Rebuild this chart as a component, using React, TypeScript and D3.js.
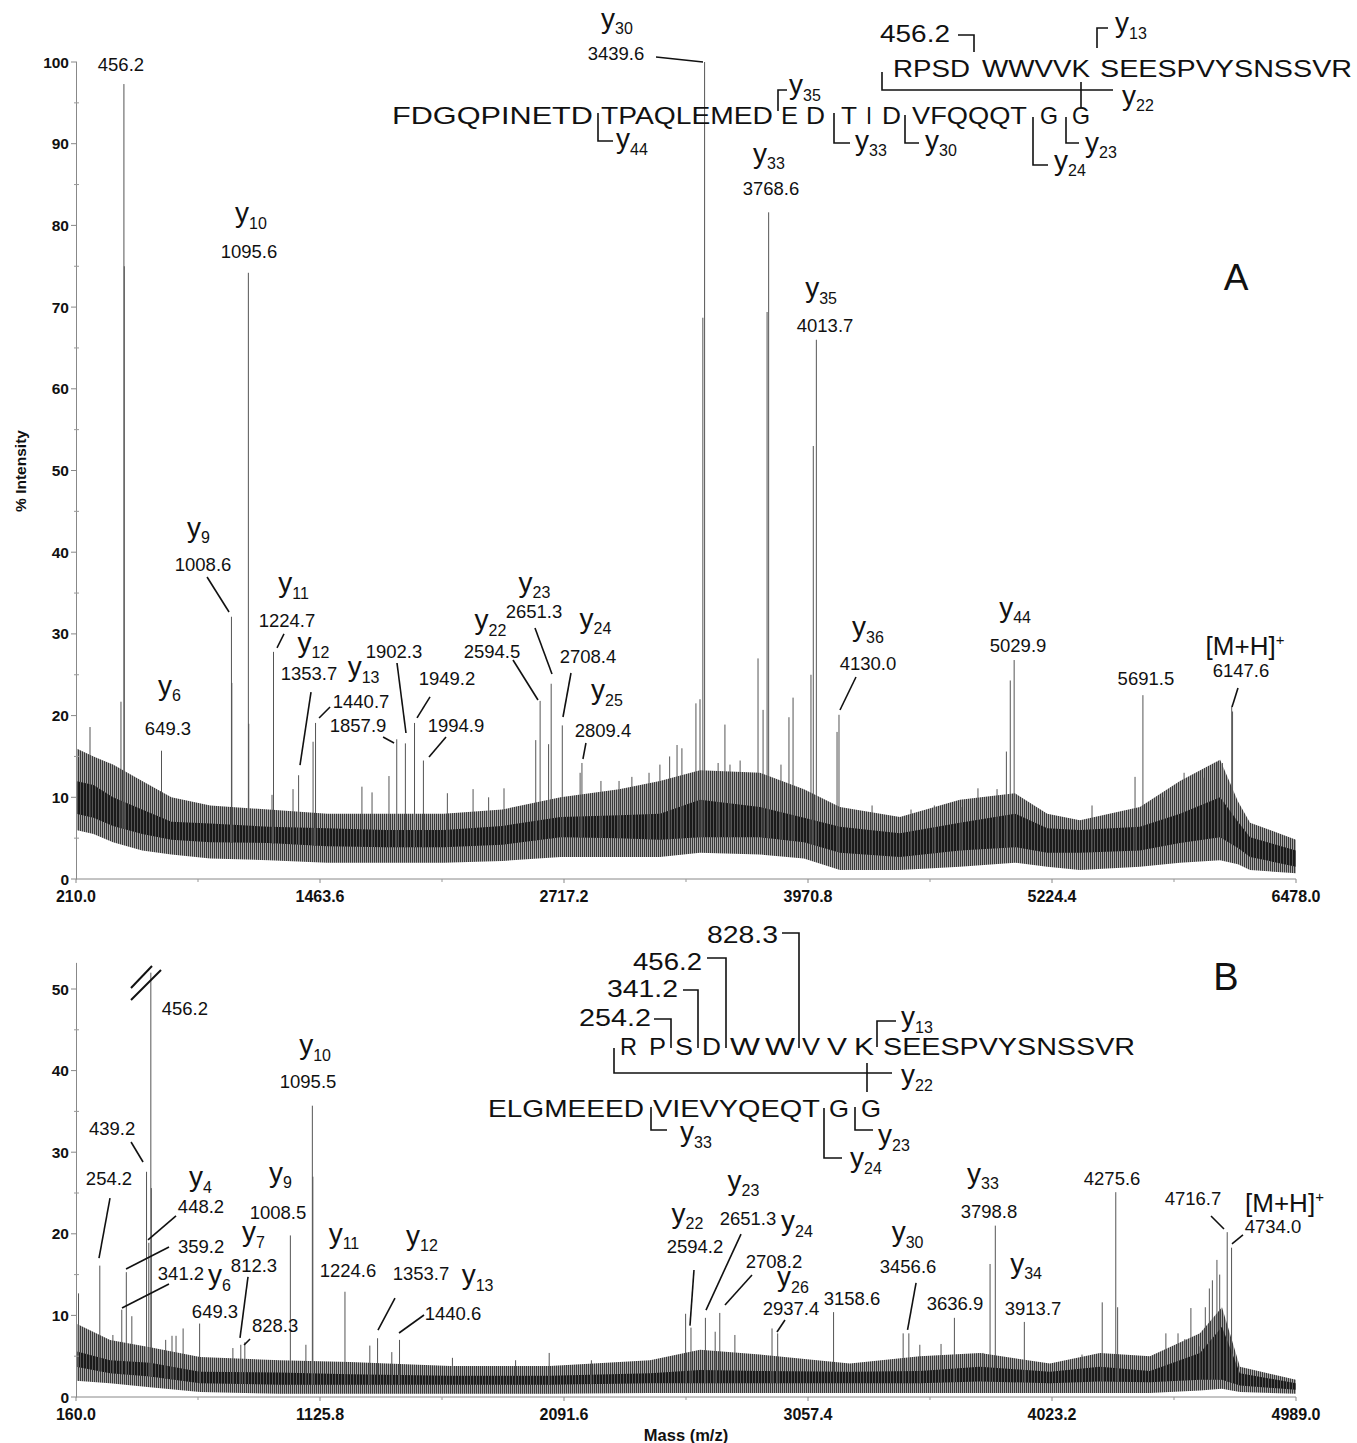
import React from 'react';
import * as d3 from 'd3';

const FONT = '"Liberation Sans", Arial, Helvetica, sans-serif';

// ---------- panel A : peaks [m/z, % intensity] ----------
const peaksA: [number, number][] = [
  [282, 18.6], [441, 21.7], [456.2, 97.3], [458.2, 75], [649.3, 15.7], [1008.6, 32.1], [1010.6, 24],
  [1095.6, 74.2], [1097.6, 19], [1217, 10.3], [1224.7, 27.8], [1325, 11], [1353.7, 12.7], [1428, 16.8],
  [1440.7, 19.1], [1679, 11.3], [1731, 10.6], [1818, 12.6], [1857.9, 17.1], [1902.3, 16.6], [1949.2, 19.1],
  [1994.9, 14.5], [2118, 10.5], [2250, 11], [2330, 10], [2409, 11.1], [2572, 17], [2594.5, 21.8],
  [2638, 16.5], [2651.3, 23.9], [2708.4, 18.8], [2800, 13], [2809.4, 14.2], [2907, 12], [3000, 12],
  [3066, 12.5], [3154, 13], [3210, 14], [3260, 15], [3298, 16.4], [3323, 16], [3395, 21.5], [3416, 22],
  [3430.6, 68.7], [3439.6, 100], [3509, 14.2], [3544, 18.9], [3570, 14], [3622, 14.5], [3714, 27],
  [3740, 20.7], [3760.6, 69.4], [3768.6, 81.6], [3832, 14], [3873, 19.8], [3894, 22.2], [3986, 25],
  [3998, 53], [4013.7, 66], [4120, 18], [4130.0, 20.1], [4300, 9], [4500, 8.5], [4620, 9], [4757, 8.8],
  [4844, 11.1], [4942, 11], [4990, 15.6], [5010, 24.3], [5029.9, 26.8], [5430, 9], [5651, 12.5],
  [5691.5, 22.5], [5800, 10], [5903, 13], [6000, 12.4], [6077, 14.3], [6100, 14.2], [6147.6, 21.1],
  [6152, 20.5],
];

// noise envelope: [m/z, low, core low, core high, high]
const bandA: number[][] = [
  [210, 6, 8, 12, 16], [300, 5.5, 7.5, 11.5, 15], [400, 4.5, 6.5, 10, 14], [550, 3.5, 5.5, 8.5, 12],
  [700, 3, 4.8, 7, 10], [900, 2.5, 4.5, 6.8, 9], [1200, 2.3, 4.4, 6.4, 8.5], [1500, 2, 4, 6.2, 8],
  [1800, 2, 3.9, 6, 8], [2100, 2, 3.9, 6, 8], [2400, 2.2, 4.2, 6.5, 8.5], [2700, 2.7, 5.1, 7.6, 10],
  [3000, 2.7, 5, 7.8, 11], [3210, 2.7, 4.8, 8, 12], [3416, 3.2, 5.1, 9.7, 13.3], [3724, 3, 5.1, 8.8, 13],
  [3950, 2.5, 4.5, 7.5, 11], [4135, 1.1, 3.2, 6.4, 8.8], [4443, 1.1, 2.7, 5.6, 7.6], [4751, 1.5, 3.5, 6.9, 9.7],
  [5034, 2, 3.9, 8, 10.5], [5200, 1.5, 3.2, 6.2, 8], [5368, 1.1, 3.2, 6, 7.2], [5676, 1.5, 3.5, 6.4, 8.8],
  [5882, 2, 4.4, 8, 12], [6088, 2.3, 5.1, 10, 14.6], [6180, 1.8, 3.8, 7, 9.5], [6242, 1.1, 2.7, 5.1, 6.9],
  [6478, 0.7, 1.5, 3.5, 4.8],
];

const xTicksA = [210.0, 1463.6, 2717.2, 3970.8, 5224.4, 6478.0];
const yTicksA = [0, 10, 20, 30, 40, 50, 60, 70, 80, 90, 100];

// ---------- panel B ----------
const peaksB: [number, number][] = [
  [170, 12.7], [254.2, 16.1], [306, 7.6], [341.2, 10.7], [359.2, 15.3], [381, 9.9], [439.2, 27.6],
  [448.2, 18.9], [456.2, 52], [458.2, 25.6], [515, 7], [540, 7.5], [556, 7.5], [584, 8.4], [649.3, 9],
  [781, 6], [812.3, 6.4], [828.3, 6.7], [1008.5, 19.8], [1070, 6.4], [1095.5, 35.7], [1097.5, 27],
  [1224.6, 12.9], [1323, 6.3], [1353.7, 7.2], [1410, 5.5], [1440.6, 7], [1650, 4.8], [1900, 4.5],
  [2033, 5.4], [2200, 4.5], [2573, 10.2], [2594.2, 8.5], [2651.3, 9.7], [2690, 8], [2708.2, 10.3],
  [2768, 7.6], [2915, 8.4], [2937.4, 7.8], [3158.6, 10.4], [3434, 7.8], [3456.6, 7.8], [3500, 6.4],
  [3584, 6.5], [3636.9, 9.7], [3750, 5.4], [3778, 16.3], [3798.8, 21], [3913.7, 9.2], [4142, 5.2],
  [4222, 11.6], [4275.6, 25.1], [4283, 11], [4474, 7.8], [4522, 7.8], [4549, 7.1], [4573, 10.9],
  [4609, 6.2], [4630, 11], [4646, 13.3], [4658, 14.3], [4676, 16.8], [4687, 15], [4716.7, 20.2],
  [4734.0, 18.3],
];

const bandB: number[][] = [
  [160, 2, 3.7, 5.6, 9], [295, 1.7, 2.9, 4.5, 7], [453, 1.2, 2.5, 4.2, 6.1], [651, 0.6, 1.7, 3.1, 4.9],
  [967, 0.4, 1.5, 3, 4.5], [1244, 0.4, 1.5, 2.8, 4.3], [1640, 0.4, 1.5, 2.6, 3.8], [2036, 0.4, 1.5, 2.6, 3.8],
  [2432, 0.5, 1.7, 2.9, 4.5], [2630, 0.5, 1.7, 3.3, 5.8], [2867, 0.5, 1.7, 3.2, 5.2], [3223, 0.5, 1.7, 3.1, 4.1],
  [3500, 0.5, 1.7, 3.2, 5], [3738, 0.5, 1.9, 3.7, 5.4], [4015, 0.5, 1.7, 3.1, 4.1], [4213, 0.5, 1.9, 3.7, 5.4],
  [4411, 0.5, 1.8, 3.2, 5], [4609, 0.8, 2.1, 5.4, 7.8], [4696, 1, 2.1, 8.6, 11], [4767, 0.6, 1.4, 2.9, 3.7],
  [4989, 0.4, 0.9, 1.7, 2.1],
];

const xTicksB = [160.0, 1125.8, 2091.6, 3057.4, 4023.2, 4989.0];
const yTicksB = [0, 10, 20, 30, 40, 50];

// peak annotations: offsets from the peak top (px), ion group offset, leader [sx, sy, ex, ey]
type Label = { mz: number; text: string; ion?: string; dx: number; dy: number; ix?: number; iy?: number; lead?: number[] };

const labelsA: Label[] = [
  { mz: 456.2, text: '456.2', dx: -3, dy: -13 },
  { mz: 1095.6, text: '1095.6', ion: '10', dx: 0.6, dy: -14.8, ix: 2, iy: -35.5 },
  { mz: 1008.6, text: '1008.6', ion: '9', dx: -28.4, dy: -45.7, ix: -4.5, iy: -34.5, lead: [-24.4, -39.7, -2.4, -4.7] },
  { mz: 649.3, text: '649.3', ion: '6', dx: 6.5, dy: -15.7, ix: 1.5, iy: -40.5 },
  { mz: 1224.7, text: '1224.7', ion: '11', dx: 13.5, dy: -24.9, ix: 6.5, iy: -34.5, lead: [10.5, -17.9, 3.5, -3.9] },
  { mz: 1353.7, text: '1353.7', ion: '12', dx: 10.4, dy: -95.2, ix: 4.5, iy: -28.5, lead: [12.4, -83.2, 1.4, -10.2] },
  { mz: 1440.7, text: '1440.7', ion: '13', dx: 45.5, dy: -15, ix: 2.5, iy: -31.5, lead: [14.5, -16, 3.5, -5] },
  { mz: 1857.9, text: '1857.9', dx: -38.7, dy: -7.3, lead: [-13.7, -2.3, -2.7, 3.7] },
  { mz: 1902.3, text: '1902.3', dx: -11.4, dy: -85.4, lead: [-8.4, -80.4, 0.6, -10.4] },
  { mz: 1949.2, text: '1949.2', dx: 32.5, dy: -38, lead: [15.5, -26, 2.5, -5] },
  { mz: 1994.9, text: '1994.9', dx: 32.6, dy: -28.5, lead: [22.6, -23.5, 5.6, -3.5] },
  { mz: 2594.5, text: '2594.5', ion: '22', dx: -48.1, dy: -42.9, ix: -1.5, iy: -28.5, lead: [-27.1, -40.9, -2.1, -0.9] },
  { mz: 2651.3, text: '2651.3', ion: '23', dx: -17.2, dy: -65.7, ix: 0.5, iy: -26.5, lead: [-16.2, -55.7, 0.8, -9.7] },
  { mz: 2708.4, text: '2708.4', ion: '24', dx: 25.7, dy: -62.4, ix: 7.5, iy: -35.5, lead: [8.7, -52.4, 0.7, -8.4] },
  { mz: 2809.4, text: '2809.4', ion: '25', dx: 21, dy: -26, ix: 4, iy: -37.5, lead: [4, -20, 1, -4] },
  { mz: 3439.6, text: '3439.6', ion: '30', dx: -88.6, dy: -2, ix: 1, iy: -32.5, lead: [-48.6, -5, -1.6, 0] },
  { mz: 3768.6, text: '3768.6', ion: '33', dx: 2.3, dy: -17.3, ix: -2, iy: -32.5 },
  { mz: 4013.7, text: '4013.7', ion: '35', dx: 8.7, dy: -7.8, ix: -4, iy: -34.5 },
  { mz: 4130.0, text: '4130.0', ion: '36', dx: 29, dy: -44.8, ix: 0, iy: -33.5, lead: [17, -37.8, 1, -4.8] },
  { mz: 5029.9, text: '5029.9', ion: '44', dx: 3.9, dy: -8, ix: -3, iy: -35.5 },
  { mz: 5691.5, text: '5691.5', dx: 3, dy: -10.2 },
  { mz: 6147.6, text: '6147.6', ion: 'MH', dx: 9.3, dy: -29.6, ix: 4, iy: -22, lead: [6.3, -18.6, 0.3, 0.4] },
];

const labelsB: Label[] = [
  { mz: 456.2, text: '456.2', dx: 34, dy: 42 },
  { mz: 439.2, text: '439.2', dx: -34.5, dy: -36.8, lead: [-15.5, -29.8, -3.5, -9.8] },
  { mz: 254.2, text: '254.2', dx: 9.2, dy: -80.6, lead: [10.2, -67.6, -0.8, -7.6] },
  { mz: 448.2, text: '448.2', ion: '4', dx: 52.2, dy: -29.8, ix: -0.5, iy: -26.5, lead: [27.2, -26.8, -0.8, -2.8] },
  { mz: 359.2, text: '359.2', dx: 74.7, dy: -19.2, lead: [42.7, -25.2, -0.3, -3.2] },
  { mz: 341.2, text: '341.2', dx: 59.2, dy: -29.7, lead: [47.2, -25.7, 0.2, -1.7] },
  { mz: 649.3, text: '649.3', ion: '6', dx: 15.4, dy: -5.6, ix: 4.5, iy: -33.5 },
  { mz: 812.3, text: '812.3', ion: '7', dx: 13.2, dy: -72.8, ix: -0.5, iy: -30.5, lead: [7.2, -67.8, -0.8, -6.8] },
  { mz: 828.3, text: '828.3', dx: 30.2, dy: -10.3, lead: [5.2, -3.3, -0.8, 2.7] },
  { mz: 1008.5, text: '1008.5', ion: '9', dx: -12.4, dy: -16.4, ix: 2.5, iy: -37.5 },
  { mz: 1095.5, text: '1095.5', ion: '10', dx: -4.3, dy: -17.7, ix: 7, iy: -33.5 },
  { mz: 1224.6, text: '1224.6', ion: '11', dx: 3, dy: -14.7, ix: -4, iy: -34.5 },
  { mz: 1353.7, text: '1353.7', ion: '12', dx: 43.4, dy: -58.2, ix: 1, iy: -35.5, lead: [17.4, -40.2, 0.4, -8.2] },
  { mz: 1440.6, text: '1440.6', ion: '13', dx: 53.5, dy: -19.9, ix: 24.5, iy: -35.5, lead: [24.5, -24.9, -0.5, -6.9] },
  { mz: 2594.2, text: '2594.2', ion: '22', dx: 4, dy: -74.6, ix: -7.5, iy: -30.5, lead: [3, -57.6, -1, -2] },
  { mz: 2651.3, text: '2651.3', ion: '23', dx: 42.6, dy: -92.8, ix: -4.5, iy: -35.5, lead: [35.6, -83.8, 0.6, -7.8] },
  { mz: 2708.2, text: '2708.2', ion: '24', dx: 54.2, dy: -45, ix: 23, iy: -37.5, lead: [32.2, -38, 5.2, -8] },
  { mz: 2937.4, text: '2937.4', ion: '26', dx: 13.3, dy: -18.4, ix: 2, iy: -28.5, lead: [7.3, -13.4, -0.7, -1.4] },
  { mz: 3158.6, text: '3158.6', dx: 18.4, dy: -7.1 },
  { mz: 3456.6, text: '3456.6', ion: '30', dx: -0.8, dy: -60.4, ix: -0.5, iy: -31.5, lead: [7.2, -50.4, -1.3, -3.4] },
  { mz: 3636.9, text: '3636.9', dx: 0.6, dy: -7.8 },
  { mz: 3798.8, text: '3798.8', ion: '33', dx: -6.3, dy: -7.6, ix: -6, iy: -35.5 },
  { mz: 3913.7, text: '3913.7', ion: '34', dx: 8.7, dy: -6.9, ix: -7, iy: -42.5 },
  { mz: 4275.6, text: '4275.6', dx: -3.7, dy: -7.2 },
  { mz: 4716.7, text: '4716.7', dx: -34.2, dy: -27.2, lead: [-16.2, -16.2, -3.2, -3.2] },
  { mz: 4734.0, text: '4734.0', ion: 'MH', dx: 41.4, dy: -14.7, ix: 11.5, iy: -21, lead: [11.4, -12.7, 0.4, -3.7] },
];

// ---------- sequence annotations (page layout, px) ----------
// [text, x start, x end, baseline]
const seqTextA: [string, number, number, number][] = [
  ['RPSD', 893, 970, 77], ['WWVVK', 982, 1090, 77], ['SEESPVYSNSSVR', 1100, 1352, 77],
  ['FDGQPINETD', 392, 593, 124], ['TPAQLEMED', 601, 773, 124], ['E', 781, 798, 124], ['D', 806, 825, 124],
  ['T', 841, 857, 124], ['I', 866, 872, 124], ['D', 882, 901, 124], ['VFQQQT', 912, 1027, 124],
  ['G', 1040, 1058, 124], ['G', 1072, 1090, 124],
  ['456.2', 880, 950, 42],
];
const seqIonA: [string, number, number][] = [
  ['13', 1115, 32], ['22', 1122, 104.5], ['35', 789, 94], ['44', 616, 148], ['33', 855, 149.5],
  ['30', 925, 149.5], ['24', 1054, 169.5], ['23', 1085, 151.5],
];
const seqLinesA: number[][][] = [
  [[958, 35], [974, 35], [974, 52]],
  [[1097, 48], [1097, 28], [1108, 28]],
  [[882, 72], [882, 90], [1113, 90]],
  [[1081, 82], [1081, 107]],
  [[778, 111], [778, 90], [787, 90]],
  [[598, 113], [598, 141], [613, 141]],
  [[834, 113], [834, 143], [850, 143]],
  [[905, 115], [905, 143], [919, 143]],
  [[1033, 117], [1033, 165], [1048, 165]],
  [[1066, 117], [1066, 143], [1079, 143]],
];

const seqTextB: [string, number, number, number][] = [
  ['R', 620, 637, 1055], ['P', 649, 666, 1055], ['S', 675, 693, 1055], ['D', 702, 721, 1055],
  ['W', 730, 760, 1055], ['W', 765, 795, 1055], ['V', 802, 820, 1055], ['V', 827, 847, 1055],
  ['K', 854, 874, 1055], ['SEESPVYSNSSVR', 883, 1135, 1055],
  ['ELGMEEED', 488, 644, 1117], ['VIEVYQEQT', 653, 820, 1117], ['G', 829, 849, 1117], ['G', 861, 881, 1117],
  ['828.3', 707, 778, 943], ['456.2', 633, 702, 970], ['341.2', 607, 678, 997], ['254.2', 579, 651, 1026],
];
const seqIonB: [string, number, number][] = [
  ['13', 901, 1026], ['22', 901, 1084], ['33', 680, 1141], ['24', 850, 1167], ['23', 878, 1144],
];
const seqLinesB: number[][][] = [
  [[782, 933], [799, 933], [799, 1048]],
  [[707, 958], [726, 958], [726, 1048]],
  [[683, 990], [698, 990], [698, 1048]],
  [[654, 1019], [671, 1019], [671, 1048]],
  [[877, 1047], [877, 1021], [896, 1021]],
  [[614, 1048], [614, 1073], [892, 1073]],
  [[867, 1063], [867, 1092]],
  [[651, 1107], [651, 1130], [667, 1130]],
  [[824, 1108], [824, 1158], [842, 1158]],
  [[855, 1107], [855, 1130], [873, 1130]],
];

function IonText({ x, y, ion, anchor = 'middle' }: { x: number; y: number; ion: string; anchor?: string }) {
  if (ion === 'MH') {
    return (
      <text x={x} y={y} fontSize={26} textAnchor={anchor}>
        [M+H]<tspan fontSize={15} dy={-10}>+</tspan>
      </text>
    );
  }
  return (
    <text x={x} y={y} textAnchor={anchor}>
      <tspan fontSize={28}>y</tspan>
      <tspan fontSize={16} dy={6.5}>{ion}</tspan>
    </text>
  );
}

type PanelProps = {
  peaks: [number, number][];
  band: number[][];
  labels: Label[];
  xTicks: number[];
  yTicks: number[];
  yTop: number;
  bottom: number;
  top: number;
  id: string;
};

function Panel({ peaks, band, labels, xTicks, yTicks, yTop, bottom, top, id }: PanelProps) {
  const x = d3.scaleLinear().domain([xTicks[0], xTicks[xTicks.length - 1]]).range([76, 1296]);
  const y = d3.scaleLinear().domain([yTicks[0], yTicks[yTicks.length - 1]]).range([bottom, top]);
  const coreLo = d3.scaleLinear().domain(band.map(d => d[0])).range(band.map(d => d[2])).clamp(true);

  const outer = d3.area<number[]>().x(d => x(d[0])).y0(d => y(d[1])).y1(d => y(d[4]));
  const core = d3.area<number[]>().x(d => x(d[0])).y0(d => y(d[2])).y1(d => y(d[3]));

  const xMinor = d3.pairs(xTicks).map(([a, b]) => (a + b) / 2);
  const yMinor = d3.pairs(yTicks).map(([a, b]) => (a + b) / 2).concat(
    yTicks[yTicks.length - 1] + 5 <= yTop ? [yTicks[yTicks.length - 1] + 5] : []);
  const fmt = d3.format('.1f');

  return (
    <g>
      <path d={outer(band) || ''} fill={`url(#noise-${id})`} />
      <path d={core(band) || ''} fill={`url(#core-${id})`} />
      {peaks.map(([m, v], i) => (
        <line key={i} x1={x(m)} x2={x(m)} y1={y(coreLo(m))} y2={y(v)} stroke="#555" strokeWidth={1} />
      ))}

      {/* axes */}
      <line x1={76} x2={1296} y1={bottom} y2={bottom} stroke="#888" />
      <line x1={76.5} x2={76.5} y1={bottom} y2={y(yTop)} stroke="#888" />
      {xTicks.map((t, i) => (
        <g key={i}>
          <line x1={x(t)} x2={x(t)} y1={bottom} y2={bottom + 4} stroke="#888" />
          <text x={x(t)} y={bottom + 23} fontSize={16} fontWeight="bold" textAnchor="middle">{fmt(t)}</text>
        </g>
      ))}
      {xMinor.map((t, i) => (
        <line key={i} x1={x(t)} x2={x(t)} y1={bottom} y2={bottom + 3} stroke="#999" />
      ))}
      {yTicks.map((t, i) => (
        <g key={i}>
          <line x1={71} x2={77} y1={y(t)} y2={y(t)} stroke="#888" />
          <text x={69} y={y(t) + 5.5} fontSize={15.5} fontWeight="bold" textAnchor="end">{t}</text>
        </g>
      ))}
      {yMinor.map((t, i) => (
        <line key={i} x1={74} x2={79} y1={y(t)} y2={y(t)} stroke="#999" />
      ))}

      {/* peak labels */}
      {labels.map((l, i) => {
        const peak = peaks.find(p => p[0] === l.mz)!;
        const px = x(peak[0]);
        const py = y(peak[1]);
        const cx = px + l.dx;
        const by = py + l.dy;
        return (
          <g key={i}>
            <text x={cx} y={by} fontSize={18.5} textAnchor="middle">{l.text}</text>
            {l.ion && <IonText x={cx + (l.ix || 0)} y={by + (l.iy || -34)} ion={l.ion} />}
            {l.lead && (
              <line x1={px + l.lead[0]} y1={py + l.lead[1]} x2={px + l.lead[2]} y2={py + l.lead[3]}
                stroke="#111" strokeWidth={1.6} />
            )}
          </g>
        );
      })}
    </g>
  );
}

function Sequence({ texts, ions, lines }: { texts: [string, number, number, number][]; ions: [string, number, number][]; lines: number[][][] }) {
  const path = d3.line();
  return (
    <g>
      {texts.map(([t, x0, x1, b], i) => (
        <text key={i} x={x0} y={b} fontSize={24.5} textLength={x1 - x0} lengthAdjust="spacingAndGlyphs">{t}</text>
      ))}
      {ions.map(([n, x, b], i) => <IonText key={i} x={x} y={b} ion={n} anchor="start" />)}
      {lines.map((pts, i) => (
        <path key={i} d={path(pts as [number, number][]) || ''} fill="none" stroke="#111" strokeWidth={1.6} />
      ))}
    </g>
  );
}

export default function App() {
  return (
    <svg width={1357} height={1443} style={{ position: 'absolute', left: 0, top: 0, background: '#fff' }}
      fontFamily={FONT} fill="#111">
      <defs>
        {['A', 'B'].map(k => (
          <React.Fragment key={k}>
            <pattern id={`noise-${k}`} width={2} height={5} patternUnits="userSpaceOnUse">
              <rect width={2} height={5} fill="#a8a8a8" />
              <rect width={1} height={5} fill="#3a3a3a" />
            </pattern>
            <pattern id={`core-${k}`} width={3} height={5} patternUnits="userSpaceOnUse">
              <rect width={3} height={5} fill="#1a1a1a" />
              <rect x={2} width={1} height={5} fill="#555" />
            </pattern>
          </React.Fragment>
        ))}
      </defs>
      <rect width={1357} height={1443} fill="#fff" />

      <Panel id="A" peaks={peaksA} band={bandA} labels={labelsA} xTicks={xTicksA} yTicks={yTicksA}
        yTop={100} bottom={879} top={62} />
      <Panel id="B" peaks={peaksB} band={bandB} labels={labelsB} xTicks={xTicksB} yTicks={yTicksB}
        yTop={53.2} bottom={1397} top={989} />

      {/* axis break marks on the clipped 456.2 peak */}
      <line x1={131} y1={988} x2={152} y2={966} stroke="#111" strokeWidth={2} />
      <line x1={131} y1={1000} x2={161} y2={970} stroke="#111" strokeWidth={2} />

      <Sequence texts={seqTextA} ions={seqIonA} lines={seqLinesA} />
      <Sequence texts={seqTextB} ions={seqIonB} lines={seqLinesB} />

      <text x={1236} y={290} fontSize={37} textAnchor="middle">A</text>
      <text x={1226} y={990} fontSize={38} textAnchor="middle">B</text>

      <text transform="translate(26,471) rotate(-90)" fontSize={15.5} fontWeight="bold" textAnchor="middle">% Intensity</text>
      <text x={686} y={1441} fontSize={16.5} fontWeight="bold" textAnchor="middle">Mass (m/z)</text>
    </svg>
  );
}
